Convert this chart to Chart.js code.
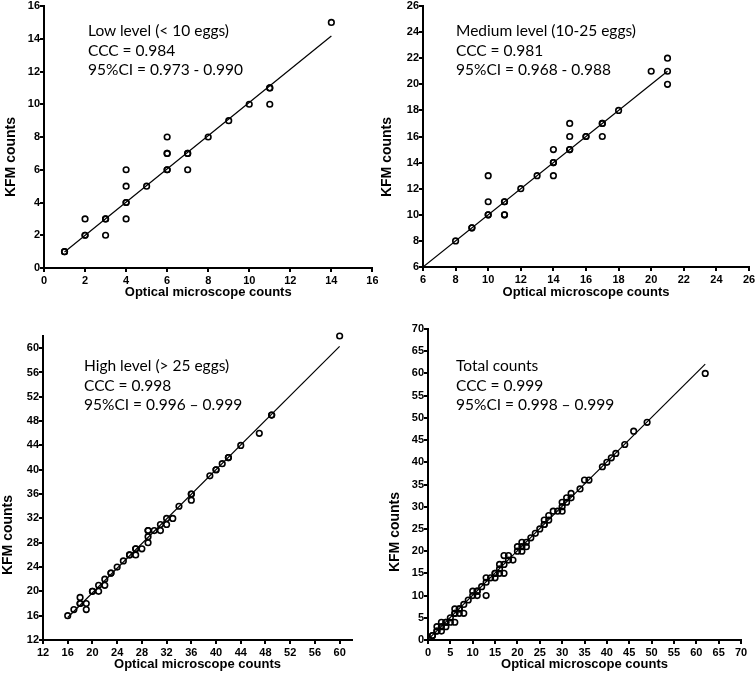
<!DOCTYPE html>
<html>
<head>
<meta charset="utf-8">
<script src="https://cdn.jsdelivr.net/npm/chart.js@4/dist/chart.umd.min.js"></script>
<style>
  body { margin: 0; background: #fff; }
  #page { position: relative; width: 755px; height: 675px; overflow: hidden; }
  .panel { position: absolute; }
  .note { position: absolute; font-family: Lato, 'Open Sans', sans-serif; font-size: 15.5px; line-height: 19.7px; color: #000; white-space: nowrap; }
  .ytitle { position: absolute; font-family: 'Liberation Sans', Arial, sans-serif; font-weight: bold; font-size: 14px; color: #000; white-space: nowrap; transform: translate(-50%, -50%) rotate(-90deg); }
</style>
</head>
<body>
<div id="page">
  <div class="panel" style="left:0;top:0"><canvas id="c1" width="378" height="312"></canvas></div>
  <div class="panel" style="left:378px;top:0"><canvas id="c2" width="377" height="312"></canvas></div>
  <div class="panel" style="left:0;top:318px"><canvas id="c3" width="378" height="357"></canvas></div>
  <div class="panel" style="left:378px;top:318px"><canvas id="c4" width="377" height="357"></canvas></div>

  <div class="ytitle" style="left:10px;top:157px">KFM counts</div>
  <div class="ytitle" style="left:386px;top:157px">KFM counts</div>
  <div class="ytitle" style="left:7px;top:535px">KFM counts</div>
  <div class="ytitle" style="left:394px;top:532px">KFM counts</div>

  <div class="note" style="left:88px;top:21px">Low level (&lt; 10 eggs)<br>CCC = 0.984<br>95%CI = 0.973 - 0.990</div>
  <div class="note" style="left:456px;top:21px">Medium level (10-25 eggs)<br>CCC = 0.981<br>95%CI = 0.968 - 0.988</div>
  <div class="note" style="left:84px;top:356px">High level (&gt; 25 eggs)<br>CCC = 0.998<br>95%CI = 0.996 – 0.999</div>
  <div class="note" style="left:456px;top:356px">Total counts<br>CCC = 0.999<br>95%CI = 0.998 – 0.999</div>
</div>
<script>
// Low level (< 10 eggs)
const lowOptical = [1, 1, 2, 2, 2, 3, 3, 3, 4, 4, 4, 4, 4, 5, 6, 6, 6, 6, 6, 7, 7, 7, 8, 9, 10, 11, 11, 11, 14];
const lowKfm     = [1, 1, 2, 2, 3, 3, 3, 2, 3, 4, 4, 5, 6, 5, 6, 6, 7, 7, 8, 7, 7, 6, 8, 9, 10, 11, 11, 10, 15];
const lowFitX = [1, 14];
const lowFitY = [0.98, 14.17];
const lowTicks = [0, 2, 4, 6, 8, 10, 12, 14, 16];

// Medium level (10-25 eggs)
const medOptical = [8, 9, 9, 10, 10, 10, 10, 11, 11, 11, 11, 12, 13, 14, 14, 14, 14, 15, 15, 15, 15, 16, 16, 17, 17, 17, 18, 20, 21, 21, 21];
const medKfm     = [8, 9, 9, 10, 10, 11, 13, 11, 11, 10, 10, 12, 13, 13, 14, 14, 15, 15, 15, 16, 17, 16, 16, 17, 17, 16, 18, 21, 22, 21, 20];
const medFitX = [6, 21];
const medFitY = [6, 21];
const medTicks = [6, 8, 10, 12, 14, 16, 18, 20, 22, 24, 26];

// High level (> 25 eggs)
const highOptical = [16, 17, 18, 18, 18, 19, 19, 20, 20, 21, 21, 22, 22, 23, 23, 24, 25, 26, 26, 27, 27, 27, 28, 29, 29, 29, 29, 30, 31, 31, 32, 32, 33, 34, 36, 36, 36, 39, 40, 40, 41, 42, 42, 44, 47, 49, 49, 60];
const highKfm     = [16, 17, 18, 18, 19, 18, 17, 20, 20, 20, 21, 21, 22, 23, 23, 24, 25, 26, 26, 26, 27, 27, 27, 28, 29, 30, 30, 30, 30, 31, 31, 32, 32, 34, 36, 36, 35, 39, 40, 40, 41, 42, 42, 44, 46, 49, 49, 62];
const highFitX = [16, 60];
const highFitY = [15.7, 60.3];
const highTicks = [12, 16, 20, 24, 28, 32, 36, 40, 44, 48, 52, 56, 60];

// Total counts
const totalOptical = [1, 1, 2, 2, 2, 3, 3, 3, 4, 4, 4, 5, 5, 6, 6, 6, 6, 7, 7, 7, 8, 8, 9, 10, 10, 11, 11, 11, 12, 13, 13, 13, 14, 15, 15, 15, 16, 16, 16, 17, 17, 17, 18, 18, 19, 20, 20, 21, 21, 21, 22, 22, 23, 24, 25, 26, 26, 26, 27, 27, 28, 29, 30, 30, 30, 31, 31, 32, 32, 34, 35, 36, 39, 40, 41, 42, 44, 46, 49, 62];
const totalKfm     = [1, 1, 2, 2, 3, 2, 3, 4, 3, 4, 4, 4, 5, 4, 6, 6, 7, 6, 7, 7, 6, 8, 9, 10, 11, 10, 11, 11, 12, 10, 13, 14, 14, 14, 15, 15, 15, 16, 17, 15, 17, 19, 18, 19, 18, 20, 21, 20, 21, 22, 21, 22, 23, 24, 25, 26, 26, 27, 27, 28, 29, 29, 29, 30, 31, 31, 32, 32, 33, 34, 36, 36, 39, 40, 41, 42, 44, 47, 49, 60];
const totalFitX = [0, 62];
const totalFitY = [0.1, 62.1];
const totalTicks = [0, 5, 10, 15, 20, 25, 30, 35, 40, 45, 50, 55, 60, 65, 70];

const fam = "'Liberation Sans', Arial, sans-serif";

const pairs = (xs, ys) => xs.map((x, i) => ({ x, y: ys[i] }));

function makeChart(id, opt) {
  return new Chart(document.getElementById(id), {
    data: {
      datasets: [
        {
          type: 'line', data: pairs(opt.fitX, opt.fitY),
          borderColor: '#000', borderWidth: 1.2, pointRadius: 0, fill: false
        },
        {
          type: 'scatter', data: pairs(opt.xs, opt.ys), clip: 6,
          pointStyle: 'circle', pointRadius: 2.8, pointBorderWidth: 1.6,
          pointBorderColor: '#000', pointBackgroundColor: 'rgba(0,0,0,0)'
        }
      ]
    },
    options: {
      responsive: false, animation: false,
      layout: { padding: opt.pad },
      plugins: { legend: { display: false }, tooltip: { enabled: false } },
      scales: {
        x: {
          type: 'linear', min: opt.min, max: opt.max,
          afterBuildTicks: s => { s.ticks = opt.ticks.map(v => ({ value: v })); },
          // fixed axis box, no extra room for overhanging labels
          afterFit: s => { s.height = opt.xh; s.paddingLeft = 0; s.paddingRight = 0; },
          grid: { display: true, drawOnChartArea: false, drawTicks: true, tickLength: 4, color: '#000', lineWidth: 2 },
          border: { color: '#000', width: 2 },
          ticks: { color: '#000', font: { family: fam, size: 11, weight: 'bold' }, padding: 2 },
          title: { display: true, text: 'Optical microscope counts', color: '#000',
            font: { family: fam, size: 13, weight: 'bold', lineHeight: 1 }, padding: 0 }
        },
        y: {
          type: 'linear', min: opt.min, max: opt.max,
          afterBuildTicks: s => { s.ticks = opt.ticks.map(v => ({ value: v })); },
          afterFit: s => { s.width = opt.yw; s.paddingTop = 0; s.paddingBottom = 0; },
          grid: { display: true, drawOnChartArea: false, drawTicks: true, tickLength: 4, color: '#000', lineWidth: 2 },
          border: { color: '#000', width: 2 },
          ticks: { color: '#000', font: { family: fam, size: 11, weight: 'bold' }, padding: 0 }
        }
      }
    }
  });
}

makeChart('c1', { xs: lowOptical, ys: lowKfm, fitX: lowFitX, fitY: lowFitY, ticks: lowTicks,
  min: 0, max: 16, yw: 44, xh: 31, pad: { left: 0, top: 6, right: 5, bottom: 13 } });
makeChart('c2', { xs: medOptical, ys: medKfm, fitX: medFitX, fitY: medFitY, ticks: medTicks,
  min: 6, max: 26, yw: 45, xh: 32, pad: { left: 0, top: 6, right: 6, bottom: 13 } });
makeChart('c3', { xs: highOptical, ys: highKfm, fitX: highFitX, fitY: highFitY, ticks: highTicks,
  min: 12, max: 62, yw: 43, xh: 31, pad: { left: 0, top: 18, right: 26, bottom: 4 } });
makeChart('c4', { xs: totalOptical, ys: totalKfm, fitX: totalFitX, fitY: totalFitY, ticks: totalTicks,
  min: 0, max: 70, yw: 50, xh: 31, pad: { left: 0, top: 11, right: 14, bottom: 4 } });
</script>
</body>
</html>
